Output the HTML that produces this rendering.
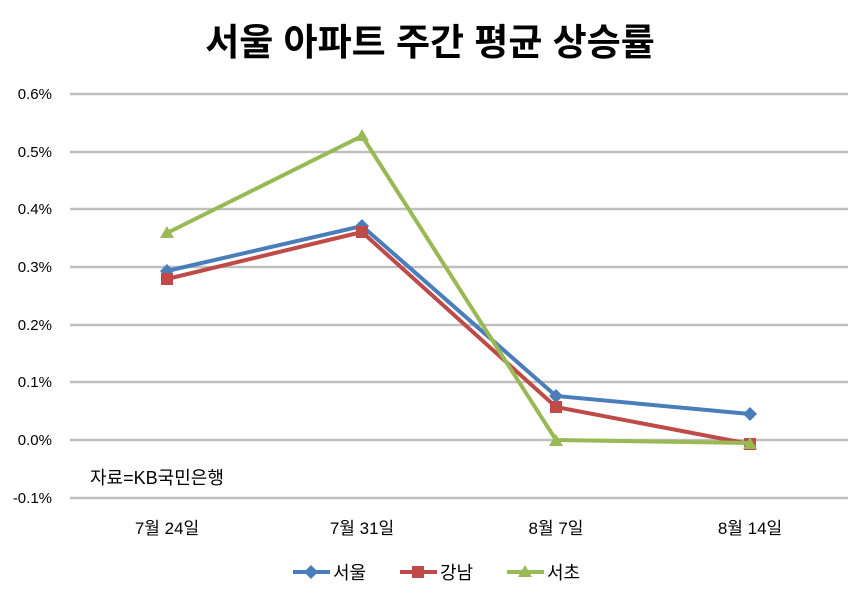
<!DOCTYPE html><html><head><meta charset="utf-8"><style>body{margin:0;background:#fff}svg{display:block}text{font-family:"Liberation Sans","Noto Sans CJK KR",sans-serif}</style></head><body>
<svg width="860" height="594" viewBox="0 0 860 594">
<text x="430" y="55" text-anchor="middle" font-size="37" font-weight="bold" fill="#000">서울 아파트 주간 평균 상승률</text>
<g stroke="#bfbfbf" stroke-width="2.5">
<line x1="70" x2="848" y1="94" y2="94"/><line x1="70" x2="848" y1="152" y2="152"/><line x1="70" x2="848" y1="209" y2="209"/><line x1="70" x2="848" y1="267" y2="267"/><line x1="70" x2="848" y1="325" y2="325"/><line x1="70" x2="848" y1="382" y2="382"/><line x1="70" x2="848" y1="440" y2="440"/><line x1="70" x2="848" y1="498" y2="498"/></g>
<g font-size="15" text-anchor="end" fill="#000">
<text x="52" y="99">0.6%</text><text x="52" y="157">0.5%</text><text x="52" y="214">0.4%</text><text x="52" y="272">0.3%</text><text x="52" y="330">0.2%</text><text x="52" y="387">0.1%</text><text x="52" y="445">0.0%</text><text x="52" y="503">-0.1%</text></g>
<g font-size="17" text-anchor="middle" fill="#000">
<text x="167" y="534">7월 24일</text><text x="362" y="534">7월 31일</text><text x="556" y="534">8월 7일</text><text x="750" y="534">8월 14일</text></g>
<text x="90" y="484" font-size="18" fill="#000">자료=KB국민은행</text>
<polyline points="167,271 362,226 556,396 750,414" fill="none" stroke="#4a7ebb" stroke-width="4"/>
<g fill="#4a7ebb"><path d="M167,264l7,7l-7,7l-7-7z"/><path d="M362,219l7,7l-7,7l-7-7z"/><path d="M556,389l7,7l-7,7l-7-7z"/><path d="M750,407l7,7l-7,7l-7-7z"/></g>
<polyline points="167,279 362,232 556,407 750,444" fill="none" stroke="#be4b48" stroke-width="4"/>
<g fill="#be4b48"><rect x="161" y="273" width="12" height="12"/><rect x="356" y="226" width="12" height="12"/><rect x="550" y="401" width="12" height="12"/><rect x="744" y="438" width="12" height="12"/></g>
<polyline points="167,233 362,136 556,440 750,443" fill="none" stroke="#98b954" stroke-width="4"/>
<g fill="#98b954"><path d="M167,226l7,12h-14z"/><path d="M362,129l7,12h-14z"/><path d="M556,434l7,12h-14z"/><path d="M750,437l7,12h-14z"/></g>
<g font-size="18" fill="#000">
<line x1="293" x2="330" y1="572" y2="572" stroke="#4a7ebb" stroke-width="4"/><path d="M311,565l7,7l-7,7l-7-7z" fill="#4a7ebb"/><text x="333" y="579">서울</text>
<line x1="400" x2="437" y1="572" y2="572" stroke="#be4b48" stroke-width="4"/><rect x="412" y="566" width="12" height="12" fill="#be4b48"/><text x="440" y="579">강남</text>
<line x1="507" x2="544" y1="572" y2="572" stroke="#98b954" stroke-width="4"/><path d="M525,565l7,12h-14z" fill="#98b954"/><text x="547" y="579">서초</text></g>
</svg></body></html>
